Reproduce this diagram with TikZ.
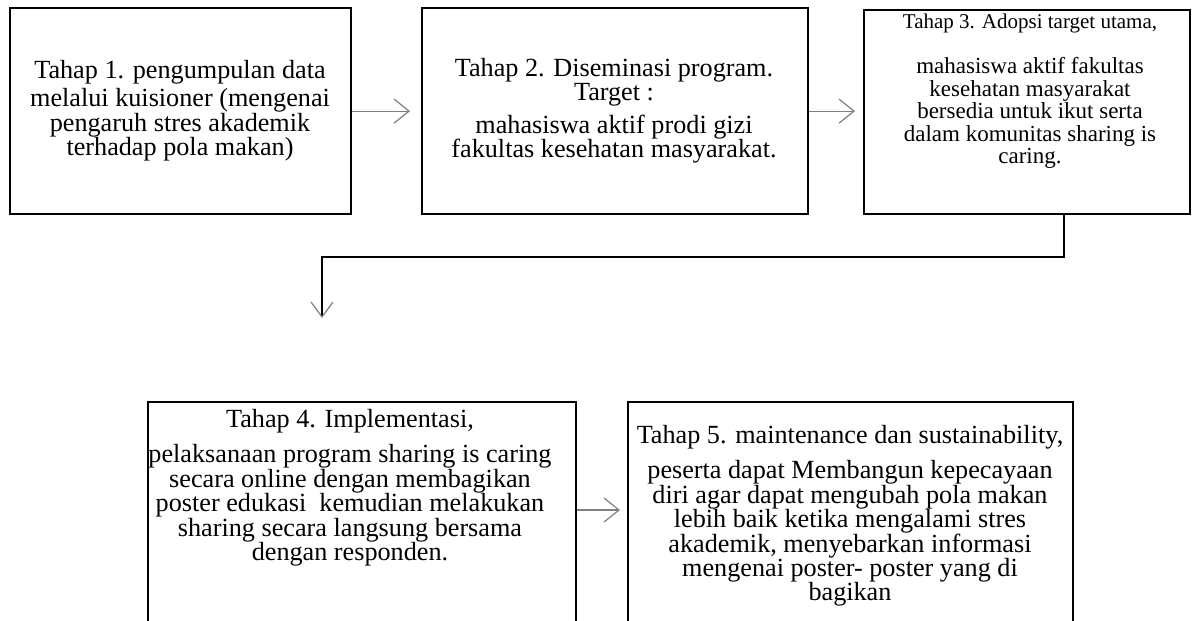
\documentclass[tikz,border=0pt]{standalone}
\usepackage{fontspec}
\setmainfont{Liberation Serif}
\usetikzlibrary{arrows.meta}

\begin{document}
\begin{tikzpicture}[
    block/.style={draw, line width=1.1pt, inner sep=0pt, anchor=north west},
    say/.style={align=center, inner sep=0pt, anchor=north,
      font=\fontsize{13.1}{12.2}\selectfont},
    next/.style={draw=gray, line width=0.6pt,
      -{Straight Barb[length=7.5pt,width=12pt,line width=0.6pt]}},
    link/.style={line width=0.7pt,
      -{Straight Barb[length=7.5pt,width=11pt,line width=0.6pt,color=gray]}},
    x=0.5pt,y=-0.5pt
    ]
    \useasboundingbox (0,0) rectangle (1196,621);
    \clip (0,0) rectangle (1196,621);

    % boxes
    \node[block, minimum width=170.5pt, minimum height=103pt] (tahap1) at (9,7) {};
    \node[block, minimum width=193pt, minimum height=103pt] (tahap2) at (421,7) {};
    \node[block, minimum width=163pt, minimum height=102pt] (tahap3) at (863,9) {};
    \node[block, minimum width=214pt, minimum height=124.5pt] (tahap4) at (147,401) {};
    \node[block, minimum width=222.5pt, minimum height=124.5pt] (tahap5) at (627,401) {};

    % texts
    \node[say] (isi1) at (180,60) {Tahap 1. pengumpulan data\\[2pt]
      melalui kuisioner (mengenai\\ pengaruh stres akademik\\ terhadap pola makan)};
    \node[say] (isi2) at (614,58) {Tahap 2. Diseminasi program.\\ Target :\\[4pt]
      mahasiswa aktif prodi gizi\\ fakultas kesehatan masyarakat.};
    \node[say, font=\fontsize{11.5}{11.3}\selectfont] (isi3) at (1030,14)
      {{\fontsize{10.5}{11}\selectfont Tahap 3. Adopsi target utama,}\\[11pt]
      mahasiswa aktif fakultas\\ kesehatan masyarakat\\ bersedia untuk ikut serta\\
      dalam komunitas sharing is\\ caring.};
    \node[say] (isi4) at (350,409) {Tahap 4. Implementasi,\\[5.5pt]
      pelaksanaan program sharing is caring\\ secara online dengan membagikan\\
      poster edukasi\ \ kemudian melakukan\\ sharing secara langsung bersama\\
      dengan responden.};
    \node[say] (isi5) at (850,425) {Tahap 5. maintenance dan sustainability,\\[5.5pt]
      peserta dapat Membangun kepecayaan\\ diri agar dapat mengubah pola makan\\
      lebih baik ketika mengalami stres\\ akademik, menyebarkan informasi\\
      mengenai poster- poster yang di\\ bagikan};

    % connectors
    \coordinate (lvl) at (0,510);
    \coordinate (turn) at (1064,257);
    \coordinate (drop) at (322,318);
    \draw[next, shorten >=5.5pt] (tahap1.east) -- (tahap1.east -| tahap2.west);
    \draw[next, shorten >=4pt] (tahap2.east) -- (tahap2.east -| tahap3.west);
    \draw[link] (tahap3.south -| turn) -- (turn) -- (turn -| drop) -- (drop);
    \draw[next, shorten >=3.5pt] (tahap4.east |- lvl) -- (tahap5.west |- lvl);
  \end{tikzpicture}
\end{document}
